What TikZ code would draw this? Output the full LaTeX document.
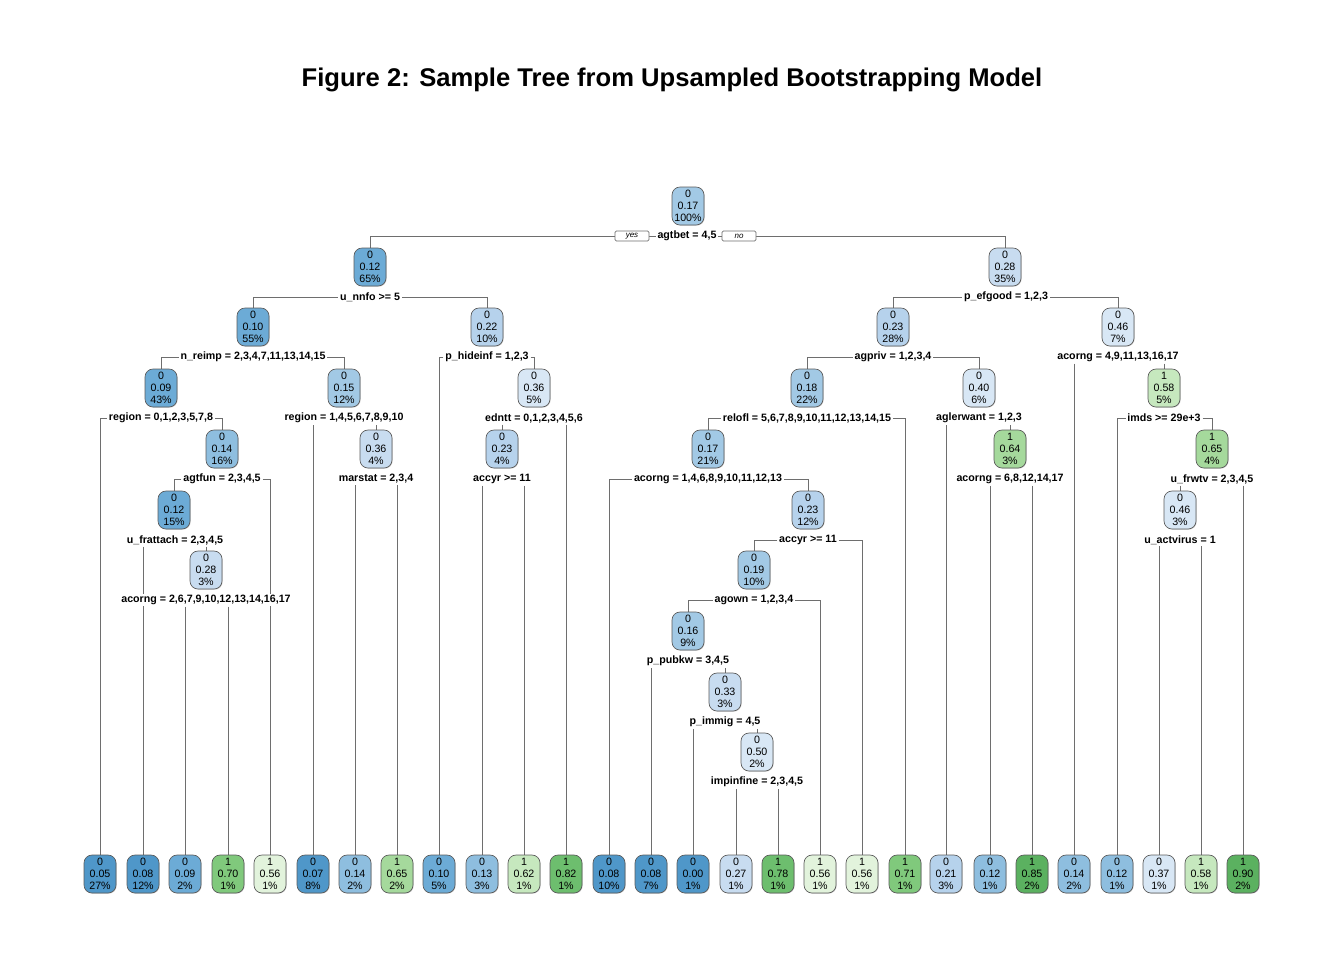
\documentclass[tikz,border=0pt]{standalone}
\usepackage{fontspec}
\setmainfont{Liberation Sans}
\usepackage{tikz}
\usetikzlibrary{positioning,calc,backgrounds,shadows}
\definecolor{bA}{HTML}{4F97C9}
\definecolor{bB}{HTML}{6CABD6}
\definecolor{bC}{HTML}{8EBEDF}
\definecolor{bD}{HTML}{A2C9E5}
\definecolor{bE}{HTML}{B6D2EC}
\definecolor{bF}{HTML}{C8DCF0}
\definecolor{bG}{HTML}{D8E7F5}
\definecolor{gA}{HTML}{E2F3DC}
\definecolor{gB}{HTML}{C6E8BE}
\definecolor{gC}{HTML}{A5D99C}
\definecolor{gD}{HTML}{80C97C}
\definecolor{gE}{HTML}{6DBE6E}
\definecolor{gF}{HTML}{5BB160}
\definecolor{linegrey}{HTML}{6E6E6E}
\definecolor{boxgrey}{HTML}{5A5A5A}
\tikzset{
  tnode/.style = {rounded corners=6pt, draw=boxgrey, align=center,
                  font=\fontsize{8}{9.2}\selectfont, inner sep=1pt,
                  minimum width=24pt, minimum height=28.5pt, line width=0.5pt,
                  drop shadow={shadow xshift=0.5pt, shadow yshift=-0.5pt,
                               fill=black!40, opacity=0.5}},
  leaf/.style  = {tnode},
  split/.style = {font=\fontsize{8}{9.2}\selectfont\bfseries, inner sep=1.2pt,
                  fill=white},
  edge/.style  = {draw=linegrey, line width=0.5pt},
  yesno/.style = {draw=linegrey, fill=white, line width=0.5pt, rounded corners=1pt,
                  font=\fontsize{6}{7}\selectfont\itshape, inner sep=0pt,
                  minimum width=25.5pt, minimum height=7.5pt},
  ttl/.style   = {font=\fontsize{19.2}{22}\selectfont\bfseries},
}

\begin{document}
\begin{tikzpicture}[x=0.75pt, y=-0.75pt]
  \useasboundingbox (0,0) rectangle (1344,960);
  \node[ttl] (title) at (672,80) {Figure 2: Sample Tree from Upsampled Bootstrapping Model};

  % ---------------- inner nodes ----------------
  \node[tnode, fill=bD] (n0)  at (688,206)  {0\\0.17\\100\%};
  \node[tnode, fill=bB] (n1)  at (370,267)  {0\\0.12\\65\%};
  \node[tnode, fill=bF] (n2)  at (1005,267) {0\\0.28\\35\%};
  \node[tnode, fill=bB] (n3)  at (253,327)  {0\\0.10\\55\%};
  \node[tnode, fill=bE] (n4)  at (487,327)  {0\\0.22\\10\%};
  \node[tnode, fill=bE] (n5)  at (893,327)  {0\\0.23\\28\%};
  \node[tnode, fill=bG] (n6)  at (1118,327) {0\\0.46\\7\%};
  \node[tnode, fill=bB] (n7)  at (161,388)  {0\\0.09\\43\%};
  \node[tnode, fill=bD] (n8)  at (344,388)  {0\\0.15\\12\%};
  \node[tnode, fill=bG] (n9)  at (534,388)  {0\\0.36\\5\%};
  \node[tnode, fill=bD] (n10) at (807,388)  {0\\0.18\\22\%};
  \node[tnode, fill=bG] (n11) at (979,388)  {0\\0.40\\6\%};
  \node[tnode, fill=gB] (n12) at (1164,388) {1\\0.58\\5\%};
  \node[tnode, fill=bC] (n13) at (222,449)  {0\\0.14\\16\%};
  \node[tnode, fill=bF] (n14) at (376,449)  {0\\0.36\\4\%};
  \node[tnode, fill=bE] (n15) at (502,449)  {0\\0.23\\4\%};
  \node[tnode, fill=bD] (n16) at (708,449)  {0\\0.17\\21\%};
  \node[tnode, fill=gC] (n17) at (1010,449) {1\\0.64\\3\%};
  \node[tnode, fill=gC] (n18) at (1212,449) {1\\0.65\\4\%};
  \node[tnode, fill=bB] (n19) at (174,510)  {0\\0.12\\15\%};
  \node[tnode, fill=bE] (n20) at (808,510)  {0\\0.23\\12\%};
  \node[tnode, fill=bG] (n21) at (1180,510) {0\\0.46\\3\%};
  \node[tnode, fill=bF] (n22) at (206,570)  {0\\0.28\\3\%};
  \node[tnode, fill=bD] (n23) at (754,570)  {0\\0.19\\10\%};
  \node[tnode, fill=bD] (n24) at (688,631)  {0\\0.16\\9\%};
  \node[tnode, fill=bF] (n25) at (725,692)  {0\\0.33\\3\%};
  \node[tnode, fill=bG] (n26) at (757,752)  {0\\0.50\\2\%};

  % ---------------- leaves ----------------
  \node[leaf, fill=bA] (l1)  at (100,874)  {0\\0.05\\27\%};
  \node[leaf, fill=bA] (l2)  at (143,874)  {0\\0.08\\12\%};
  \node[leaf, fill=bB] (l3)  at (185,874)  {0\\0.09\\2\%};
  \node[leaf, fill=gD] (l4)  at (228,874)  {1\\0.70\\1\%};
  \node[leaf, fill=gA] (l5)  at (270,874)  {1\\0.56\\1\%};
  \node[leaf, fill=bA] (l6)  at (313,874)  {0\\0.07\\8\%};
  \node[leaf, fill=bC] (l7)  at (355,874)  {0\\0.14\\2\%};
  \node[leaf, fill=gC] (l8)  at (397,874)  {1\\0.65\\2\%};
  \node[leaf, fill=bB] (l9)  at (439,874)  {0\\0.10\\5\%};
  \node[leaf, fill=bC] (l10) at (482,874)  {0\\0.13\\3\%};
  \node[leaf, fill=gB] (l11) at (524,874)  {1\\0.62\\1\%};
  \node[leaf, fill=gE] (l12) at (566,874)  {1\\0.82\\1\%};
  \node[leaf, fill=bA] (l13) at (609,874)  {0\\0.08\\10\%};
  \node[leaf, fill=bA] (l14) at (651,874)  {0\\0.08\\7\%};
  \node[leaf, fill=bA] (l15) at (693,874)  {0\\0.00\\1\%};
  \node[leaf, fill=bF] (l16) at (736,874)  {0\\0.27\\1\%};
  \node[leaf, fill=gE] (l17) at (778,874)  {1\\0.78\\1\%};
  \node[leaf, fill=gA] (l18) at (820,874)  {1\\0.56\\1\%};
  \node[leaf, fill=gA] (l19) at (862,874)  {1\\0.56\\1\%};
  \node[leaf, fill=gD] (l20) at (905,874)  {1\\0.71\\1\%};
  \node[leaf, fill=bE] (l21) at (946,874)  {0\\0.21\\3\%};
  \node[leaf, fill=bC] (l22) at (990,874)  {0\\0.12\\1\%};
  \node[leaf, fill=gF] (l23) at (1032,874) {1\\0.85\\2\%};
  \node[leaf, fill=bC] (l24) at (1074,874) {0\\0.14\\2\%};
  \node[leaf, fill=bC] (l25) at (1117,874) {0\\0.12\\1\%};
  \node[leaf, fill=bG] (l26) at (1159,874) {0\\0.37\\1\%};
  \node[leaf, fill=gB] (l27) at (1201,874) {1\\0.58\\1\%};
  \node[leaf, fill=gF] (l28) at (1243,874) {1\\0.90\\2\%};

  % ---------------- split labels ----------------
  \node[split] (s0)  at (687,236)  {agtbet = 4,5};
  \node[split] (s1)  at (370,297)  {u\_nnfo >= 5};
  \node[split] (s2)  at (1006,297) {p\_efgood = 1,2,3};
  \node[split] (s3)  at (253,357)  {n\_reimp = 2,3,4,7,11,13,14,15};
  \node[split] (s4)  at (487,357)  {p\_hideinf = 1,2,3};
  \node[split] (s5)  at (893,357)  {agpriv = 1,2,3,4};
  \node[split] (s6)  at (1118,357) {acorng = 4,9,11,13,16,17};
  \node[split] (s7)  at (161,418)  {region = 0,1,2,3,5,7,8};
  \node[split] (s8)  at (344,418)  {region = 1,4,5,6,7,8,9,10};
  \node[split] (s9)  at (534,418)  {edntt = 0,1,2,3,4,5,6};
  \node[split] (s10) at (807,418)  {relofl = 5,6,7,8,9,10,11,12,13,14,15};
  \node[split] (s11) at (979,418)  {aglerwant = 1,2,3};
  \node[split] (s12) at (1164,418) {imds >= 29e+3};
  \node[split] (s13) at (222,479)  {agtfun = 2,3,4,5};
  \node[split] (s14) at (376,479)  {marstat = 2,3,4};
  \node[split] (s15) at (502,479)  {accyr >= 11};
  \node[split] (s16) at (708,479)  {acorng = 1,4,6,8,9,10,11,12,13};
  \node[split] (s17) at (1010,479) {acorng = 6,8,12,14,17};
  \node[split] (s18) at (1212,479) {u\_frwtv = 2,3,4,5};
  \node[split] (s19) at (175,540)  {u\_frattach = 2,3,4,5};
  \node[split] (s20) at (808,540)  {accyr >= 11};
  \node[split] (s21) at (1180,540) {u\_actvirus = 1};
  \node[split] (s22) at (206,600)  {acorng = 2,6,7,9,10,12,13,14,16,17};
  \node[split] (s23) at (754,600)  {agown = 1,2,3,4};
  \node[split] (s24) at (688,661)  {p\_pubkw = 3,4,5};
  \node[split] (s25) at (725,722)  {p\_immig = 4,5};
  \node[split] (s26) at (757,782)  {impinfine = 2,3,4,5};

  \begin{scope}[on background layer]
    % ---------------- branches: side of label, then down ----------------
    \foreach \s/\a/\b in {s0/n1/n2, s1/n3/n4, s2/n5/n6, s3/n7/n8, s4/l9/n9,
                          s5/n10/n11, s7/l1/n13, s10/n16/l20, s12/l25/n18,
                          s13/n19/l5, s16/l13/n20, s20/n23/l19, s23/n24/l18}{
      \draw[edge] (\s.west) -| (\a);
      \draw[edge] (\s.east) -| (\b);
    }
    % ---------------- branches: straight down from label ----------------
    \foreach \s/\a/\b in {s6/l24/n12, s8/l6/n14, s9/n15/l12, s11/l21/n17,
                          s14/l7/l8, s15/l10/l11, s17/l22/l23, s18/n21/l28,
                          s19/l2/n22, s21/l26/l27, s22/l3/l4, s24/l14/n25,
                          s25/l15/n26, s26/l16/l17}{
      \draw[edge] (\a |- \s.south) -- (\a);
      \draw[edge] (\b |- \s.south) -- (\b);
    }
  \end{scope}

  \node[yesno] (yes) at (632,236) {yes};
  \node[yesno] (no)  at (739,236) {no};
\end{tikzpicture}
\end{document}
